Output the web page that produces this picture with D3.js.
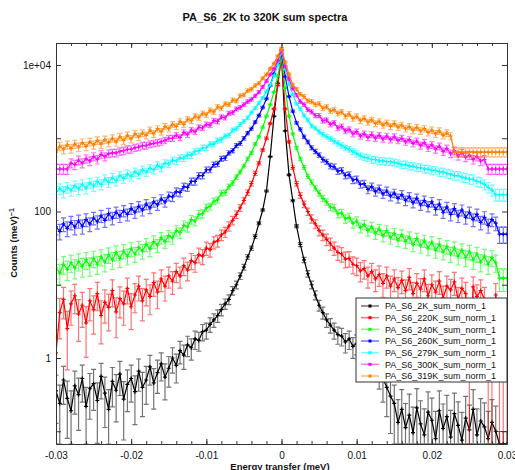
<!DOCTYPE html>
<html>
<head>
<meta charset="utf-8">
<title>PA_S6_2K to 320K sum spectra</title>
<script src="https://cdn.jsdelivr.net/npm/d3@7"></script>
<style>
  body { margin: 0; background: #ffffff; }
  svg text { font-family: "Liberation Sans", Arial, sans-serif; fill: #111; }
</style>
</head>
<body>
<div id="svg-div"></div>
<script>
// legend names and colours, in legend order
const seriesNames = [
    "PA_S6_2K_sum_norm_1", "PA_S6_220K_sum_norm_1", "PA_S6_240K_sum_norm_1",
    "PA_S6_260K_sum_norm_1", "PA_S6_279K_sum_norm_1", "PA_S6_300K_sum_norm_1",
    "PA_S6_319K_sum_norm_1"
];
const seriesColors = ["#000000", "#ff0000", "#00ff00", "#0000ff", "#00ffff", "#ff00ff", "#ff8000"];
// error bar size per series: err = k * sqrt(counts)
const errScale = [0.38, 1.15, 1.2, 1.75, 2.4, 3.0, 3.6];

// energy bins (meV), one every 0.0005 from -0.03 to 0.03
const energy = d3.range(121).map(i => Math.round((-0.03 + i * 0.0005) * 1e4) / 1e4);

// log10(counts), one value per energy bin
const logCounts2K = [
    -0.45, -0.62, -0.30, -0.55, -0.72, -0.38, -0.50, -0.28, -0.66, -0.42,
    -0.35, -0.58, -0.25, -0.48, -0.70, -0.32, -0.44, -0.22, -0.56, -0.36,
    -0.28, -0.46, -0.18, -0.40, -0.30, -0.12, -0.34, -0.20, -0.08, -0.26,
    -0.14, 0.00, -0.10, 0.10, 0.04, 0.18, 0.14, 0.26, 0.24, 0.36,
    0.38, 0.46, 0.52, 0.58, 0.66, 0.74, 0.80, 0.92, 1.00, 1.12,
    1.24, 1.38, 1.50, 1.66, 1.84, 2.02, 2.28, 2.75, 3.30, 3.75,
    4.14,
    3.10, 2.50, 2.15, 1.80, 1.55, 1.34, 1.15, 1.00, 0.86,
    0.72, 0.62, 0.52, 0.45, 0.38, 0.32, 0.30, 0.22, 0.26, 0.16,
    0.20, 0.08, 0.14, 0.02, -0.06, 0.04, -0.16, -0.28, -0.40, -0.52,
    -0.62, -0.88, -0.70, -0.95, -0.78, -1.02, -0.68, -0.90, -1.05, -0.74,
    -0.85, -1.10, -0.72, -0.96, -0.80, -1.08, -0.76, -0.92, -1.12, -0.82,
    -0.98, -0.70, -1.05, -0.86, -0.94, -1.10, -0.88, -1.00,
    -1.5, -1.5, -1.5
];
const logCounts220K = [
    0.07,
    0.62, 0.80, 0.40, 0.74, 0.85, 0.60, 0.72, 0.48, 0.78,
    0.66, 0.88, 0.58, 0.76, 0.69, 0.92, 0.63, 0.81, 0.74, 0.95,
    0.70, 0.86, 0.98, 0.78, 0.93, 0.84, 1.03, 0.90, 1.08, 0.98,
    1.12, 1.05, 1.18, 1.12, 1.26, 1.20, 1.33, 1.30, 1.41, 1.39,
    1.50, 1.48, 1.58, 1.60, 1.68, 1.72, 1.80, 1.88, 1.96, 2.05,
    2.15, 2.26, 2.38, 2.52, 2.66, 2.84, 3.00, 3.20, 3.40, 3.72,
    4.10,
    3.40, 2.95, 2.60, 2.38, 2.22, 2.10, 2.00, 1.90, 1.83,
    1.74, 1.68, 1.62, 1.56, 1.50, 1.44, 1.42, 1.35, 1.36, 1.28,
    1.26, 1.19, 1.22, 1.12, 1.18, 1.08, 1.14, 1.02, 1.12, 0.98,
    1.08, 0.96, 1.06, 0.92, 1.10, 0.88, 1.02, 0.94, 1.08, 0.85,
    1.00, 0.90, 1.05, 0.82, 0.98, 0.93, 1.04, 0.80, 0.95, 0.88,
    -0.10, 0.97, 0.84, 0.92, 0.80, -0.12, -0.08, 0.86,
    0.07, 0.07, 0.07
];
const logCounts240K = [
    1.23, 1.16, 1.28, 1.21, 1.30, 1.23, 1.32, 1.25, 1.34, 1.26,
    1.36, 1.28, 1.38, 1.31, 1.41, 1.34, 1.44, 1.36, 1.46, 1.39,
    1.49, 1.42, 1.51, 1.46, 1.55, 1.49, 1.59, 1.54, 1.64, 1.59,
    1.67, 1.64, 1.74, 1.71, 1.81, 1.79, 1.89, 1.87, 1.96, 1.97,
    2.05, 2.07, 2.14, 2.16, 2.25, 2.26, 2.34, 2.39, 2.47, 2.54,
    2.62, 2.72, 2.80, 2.92, 3.02, 3.15, 3.30, 3.46, 3.63, 3.85,
    4.12,
    3.68, 3.30, 3.06, 2.87, 2.72, 2.60, 2.48, 2.40, 2.32,
    2.25, 2.18, 2.13, 2.06, 2.05, 1.97, 1.98, 1.90, 1.92, 1.84,
    1.87, 1.78, 1.82, 1.74, 1.79, 1.70, 1.76, 1.67, 1.74, 1.64,
    1.70, 1.61, 1.68, 1.59, 1.65, 1.55, 1.63, 1.53, 1.60, 1.50,
    1.58, 1.47, 1.55, 1.45, 1.52, 1.42, 1.50, 1.39, 1.47, 1.37,
    1.45, 1.34, 1.42, 1.31, 1.39, 1.28, 1.37, 1.30,
    1.09, 1.09, 1.09
];
const logCounts260K = [
    1.79, 1.73, 1.83, 1.77, 1.85, 1.79, 1.87, 1.80, 1.89, 1.83,
    1.91, 1.86, 1.94, 1.88, 1.97, 1.91, 1.99, 1.94, 2.01, 1.96,
    2.04, 1.99, 2.07, 2.02, 2.10, 2.05, 2.13, 2.09, 2.17, 2.13,
    2.21, 2.20, 2.27, 2.26, 2.34, 2.33, 2.41, 2.41, 2.49, 2.49,
    2.57, 2.57, 2.64, 2.65, 2.72, 2.73, 2.80, 2.83, 2.90, 2.93,
    3.00, 3.07, 3.13, 3.22, 3.31, 3.42, 3.54, 3.72, 3.88, 4.02,
    4.15,
    3.84, 3.57, 3.37, 3.21, 3.12, 3.02, 2.95, 2.87, 2.82,
    2.77, 2.71, 2.68, 2.62, 2.61, 2.55, 2.56, 2.49, 2.50, 2.43,
    2.44, 2.37, 2.38, 2.30, 2.34, 2.27, 2.31, 2.24, 2.28, 2.21,
    2.25, 2.18, 2.23, 2.15, 2.20, 2.12, 2.18, 2.09, 2.15, 2.07,
    2.13, 2.03, 2.10, 1.99, 2.06, 1.96, 2.04, 1.94, 2.02, 1.92,
    1.99, 1.89, 1.96, 1.85, 1.92, 1.81, 1.89, 1.84,
    1.69, 1.69, 1.69
];
const logCounts279K = [
    2.27, 2.31, 2.27, 2.33, 2.29, 2.35, 2.31, 2.37, 2.32, 2.39,
    2.35, 2.41, 2.37, 2.44, 2.40, 2.46, 2.42, 2.49, 2.45, 2.51,
    2.48, 2.54, 2.51, 2.57, 2.54, 2.59, 2.57, 2.63, 2.60, 2.66,
    2.65, 2.70, 2.69, 2.73, 2.73, 2.77, 2.77, 2.82, 2.83, 2.87,
    2.87, 2.92, 2.92, 2.97, 2.98, 3.03, 3.04, 3.11, 3.13, 3.19,
    3.23, 3.28, 3.35, 3.41, 3.48, 3.55, 3.64, 3.73, 3.85, 4.00,
    4.18,
    3.94, 3.74, 3.60, 3.47, 3.40, 3.31, 3.25, 3.17, 3.14,
    3.09, 3.05, 3.02, 2.99, 2.96, 2.93, 2.90, 2.87, 2.85, 2.82,
    2.79, 2.76, 2.74, 2.73, 2.71, 2.71, 2.69, 2.69, 2.68, 2.68,
    2.67, 2.66, 2.64, 2.64, 2.62, 2.62, 2.60, 2.60, 2.58, 2.58,
    2.56, 2.56, 2.54, 2.54, 2.52, 2.51, 2.49, 2.49, 2.47, 2.46,
    2.44, 2.44, 2.41, 2.40, 2.37, 2.33, 2.29,
    2.23, 2.23, 2.23, 2.23
];
const logCounts300K = [
    2.58, 2.58, 2.58, 2.58, 2.66, 2.64, 2.70, 2.66, 2.72, 2.69,
    2.75, 2.71, 2.78, 2.75, 2.79, 2.80, 2.80, 2.82, 2.83, 2.85,
    2.85, 2.87, 2.88, 2.90, 2.90, 2.92, 2.93, 2.94, 2.95, 2.97,
    3.00, 3.00, 3.04, 3.01, 3.08, 3.05, 3.11, 3.09, 3.15, 3.14,
    3.19, 3.18, 3.24, 3.23, 3.29, 3.28, 3.34, 3.35, 3.40, 3.42,
    3.46, 3.50, 3.53, 3.58, 3.63, 3.70, 3.78, 3.87, 3.95, 4.06,
    4.20,
    3.98, 3.81, 3.68, 3.59, 3.50, 3.46, 3.39, 3.36, 3.31,
    3.31, 3.24, 3.25, 3.19, 3.21, 3.14, 3.16, 3.10, 3.12, 3.06,
    3.09, 3.03, 3.06, 3.01, 3.05, 3.00, 3.04, 2.99, 3.03, 2.98,
    3.02, 2.97, 3.00, 2.95, 2.98, 2.93, 2.96, 2.90, 2.94, 2.87,
    2.91, 2.85, 2.89, 2.82, 2.86, 2.79, 2.83, 2.76, 2.80, 2.74,
    2.77, 2.71, 2.75, 2.69, 2.71,
    2.58, 2.58, 2.58, 2.58, 2.58, 2.58
];
const logCounts319K = [
    2.81, 2.89, 2.85, 2.91, 2.86, 2.92, 2.88, 2.94, 2.89, 2.95,
    2.91, 2.97, 2.92, 2.98, 2.94, 3.00, 2.95, 3.02, 2.97, 3.04,
    2.99, 3.06, 3.02, 3.07, 3.04, 3.11, 3.06, 3.13, 3.09, 3.16,
    3.13, 3.19, 3.16, 3.23, 3.19, 3.26, 3.24, 3.30, 3.28, 3.34,
    3.32, 3.38, 3.36, 3.43, 3.41, 3.47, 3.46, 3.52, 3.51, 3.58,
    3.59, 3.65, 3.67, 3.72, 3.75, 3.82, 3.87, 3.95, 4.02, 4.12,
    4.23,
    4.04, 3.87, 3.73, 3.67, 3.60, 3.57, 3.51, 3.50, 3.46,
    3.47, 3.41, 3.43, 3.37, 3.39, 3.34, 3.36, 3.30, 3.33, 3.27,
    3.30, 3.24, 3.27, 3.22, 3.25, 3.20, 3.23, 3.18, 3.21, 3.16,
    3.20, 3.15, 3.18, 3.13, 3.16, 3.11, 3.15, 3.10, 3.13, 3.08,
    3.11, 3.06, 3.10, 3.04, 3.07, 3.03,
    2.81, 2.81, 2.81, 2.81, 2.81, 2.81, 2.81, 2.81, 2.81, 2.81,
    2.81, 2.81, 2.81, 2.81, 2.81
];
const seriesValues = [logCounts2K, logCounts220K, logCounts240K, logCounts260K,
    logCounts279K, logCounts300K, logCounts319K];

// axis ticks
const xMajorTicks = [-0.03, -0.02, -0.01, 0, 0.01, 0.02, 0.03];
const xTickLabels = ["-0.03", "-0.02", "-0.01", "0", "0.01", "0.02", "0.03"];
const xMinorTicks = d3.range(31).map(i => -0.03 + i * 0.002);
const yDecades = [0.1, 1, 10, 100, 1000, 10000];
const yTickLabels = { 1: "1", 100: "100", 10000: "1e+04" };

// margin and dimensions
const margin = { top: 43, right: 8, bottom: 26, left: 56 };
const width = 515 - margin.left - margin.right;
const height = 470 - margin.top - margin.bottom;

const svg = d3.select("#svg-div").append("svg")
    .attr("width", width + margin.left + margin.right)
    .attr("height", height + margin.top + margin.bottom);

const xScale = d3.scaleLinear().domain([-0.03, 0.03]).range([0, width]);
const yScale = d3.scaleLog().domain([0.067, 19960]).range([height, 0]);

const gPlot = svg.append("g")
    .attr("transform", "translate(" + margin.left + "," + margin.top + ")");

svg.append("defs").append("clipPath").attr("id", "plot-clip")
    .append("rect").attr("width", width).attr("height", height);

const gData = gPlot.append("g").attr("clip-path", "url(#plot-clip)");

// values below the frame sit on its bottom edge
function yPos(v) {
    if (v <= 0) return height;
    return Math.max(0, Math.min(height, yScale(v)));
}

seriesValues.forEach((values, si) => {
    const color = seriesColors[si];
    const points = energy.map((e, i) => {
        const v = Math.pow(10, values[i]);
        const err = errScale[si] * Math.sqrt(v);
        return { x: xScale(e), y: yPos(v), yHi: yPos(v + err), yLo: yPos(v - err) };
    });
    const g = gData.append("g").attr("class", "series");

    g.selectAll("path.err")
        .data(points).enter()
        .append("path").attr("class", "err")
        .attr("d", d => "M" + (d.x - 2.5) + "," + d.yHi + "H" + (d.x + 2.5)
            + "M" + d.x + "," + d.yHi + "V" + d.yLo
            + "M" + (d.x - 2.5) + "," + d.yLo + "H" + (d.x + 2.5))
        .attr("fill", "none")
        .attr("stroke", color)
        .attr("stroke-opacity", 0.55)
        .attr("stroke-width", 1.2);

    g.append("path").datum(points)
        .attr("d", d3.line().x(d => d.x).y(d => d.y))
        .attr("fill", "none")
        .attr("stroke", color)
        .attr("stroke-width", 1.2);

    g.selectAll("path.mark")
        .data(points).enter()
        .append("path").attr("class", "mark")
        .attr("d", d => "M" + (d.x - 2) + "," + d.y + "H" + (d.x + 2)
            + "M" + d.x + "," + (d.y - 2) + "V" + (d.y + 2))
        .attr("stroke", color)
        .attr("stroke-width", 1.2);
});

// frame and ticks (all ticks point inwards)
function styleAxis(g) {
    g.selectAll("path, line").attr("stroke", "#333");
    g.selectAll("text").attr("font-family", "Liberation Sans, Arial, sans-serif")
        .attr("font-size", 10).attr("fill", "#111");
}

gPlot.append("g").attr("transform", "translate(0," + height + ")")
    .call(d3.axisBottom(xScale).tickValues(xMinorTicks).tickSize(-3).tickSizeOuter(0).tickFormat(""))
    .call(styleAxis);
gPlot.append("g").attr("transform", "translate(0," + height + ")")
    .call(d3.axisBottom(xScale).tickValues(xMajorTicks).tickSize(-5).tickSizeOuter(0)
        .tickPadding(7.5).tickFormat((d, i) => xTickLabels[i]))
    .call(styleAxis);
gPlot.append("g")
    .call(d3.axisTop(xScale).tickValues(xMinorTicks).tickSize(-3).tickSizeOuter(0).tickFormat(""))
    .call(styleAxis);
gPlot.append("g")
    .call(d3.axisTop(xScale).tickValues(xMajorTicks).tickSize(-5).tickSizeOuter(0).tickFormat(""))
    .call(styleAxis);
gPlot.append("g")
    .call(d3.axisLeft(yScale).tickValues(yDecades).tickSize(-5).tickSizeOuter(0)
        .tickPadding(5).tickFormat(d => yTickLabels[d] || ""))
    .call(styleAxis);
gPlot.append("g").attr("transform", "translate(" + width + ",0)")
    .call(d3.axisRight(yScale).tickValues(yDecades).tickSize(-5).tickSizeOuter(0).tickFormat(""))
    .call(styleAxis);

// titles
svg.append("text")
    .attr("x", 265).attr("y", 21)
    .attr("text-anchor", "middle")
    .attr("font-size", 11).attr("font-weight", "bold")
    .text("PA_S6_2K to 320K sum spectra");

svg.append("text")
    .attr("x", 280).attr("y", 469.5)
    .attr("text-anchor", "middle")
    .attr("font-size", 9.5).attr("font-weight", "bold")
    .text("Energy transfer (meV)");

const yLabel = svg.append("text")
    .attr("transform", "translate(17,243) rotate(-90)")
    .attr("text-anchor", "middle")
    .attr("font-size", 9.5).attr("font-weight", "bold");
yLabel.append("tspan").text("Counts (meV)");
yLabel.append("tspan").attr("dy", -3.5).attr("font-size", 7).text("\u22121");

// legend
const legend = svg.append("g").attr("transform", "translate(356,298)");
legend.append("rect")
    .attr("width", 151).attr("height", 84)
    .attr("fill", "#ffffff").attr("stroke", "#333");
seriesNames.forEach((name, i) => {
    const row = legend.append("g").attr("transform", "translate(0," + (8 + i * 11.67) + ")");
    row.append("line")
        .attr("x1", 5).attr("x2", 23)
        .attr("stroke", seriesColors[i]).attr("stroke-opacity", 0.55).attr("stroke-width", 1.5);
    row.append("rect")
        .attr("x", 12.5).attr("y", -1.5).attr("width", 3).attr("height", 3)
        .attr("fill", seriesColors[i]);
    row.append("text")
        .attr("x", 29).attr("y", 3.3)
        .attr("font-size", 9)
        .text(name);
});
</script>
</body>
</html>
